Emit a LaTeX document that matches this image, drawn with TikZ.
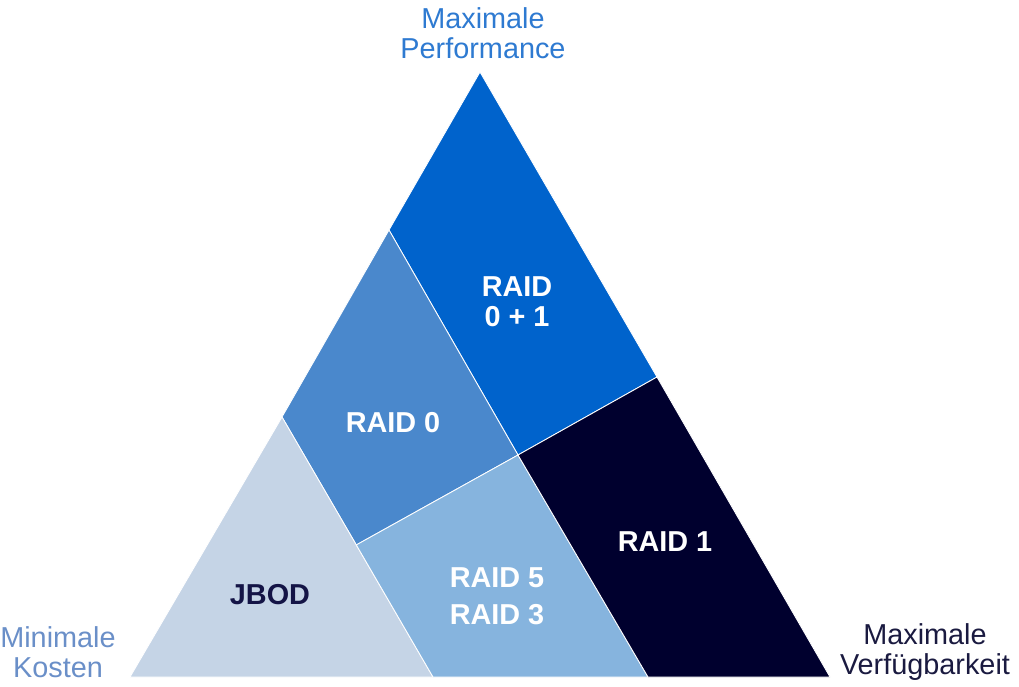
\documentclass[tikz,border=0pt]{standalone}
\usepackage{fontspec}
\setmainfont{Liberation Sans}
\usepackage{xcolor}
\usetikzlibrary{positioning, calc}

\definecolor{perfblue}{RGB}{0,99,204}
\definecolor{raidzero}{RGB}{74,136,204}
\definecolor{raidfive}{RGB}{134,180,222}
\definecolor{jbodgrey}{RGB}{197,212,230}
\definecolor{raidone}{RGB}{0,0,46}
\definecolor{toplabel}{RGB}{46,122,209}
\definecolor{leftlabel}{RGB}{106,143,200}
\definecolor{rightlabel}{RGB}{26,26,64}
\definecolor{jbodtext}{RGB}{20,20,70}

\tikzset{
  region/.style={draw=white, line width=0.6pt, line join=round},
  corner/.style={font=\fontsize{20.5}{21.5}\selectfont, align=center},
  raidlabel/.style={font=\bfseries\fontsize{20.5}{21.5}\selectfont, align=center, text=white}
}

\begin{document}
\begin{tikzpicture}[x=0.025cm, y=-0.025cm]
  \useasboundingbox (0,0) rectangle (1019,686);
  % corners of the triangle
  \coordinate (A) at (480,72);
  \coordinate (L) at (130,677);
  \coordinate (R) at (830,677);
  % points on the edges and inside
  \coordinate (P1) at (389,230);
  \coordinate (P2) at (282,417);
  \coordinate (T) at (657,377);
  \coordinate (Q) at (433,677);
  \coordinate (S) at (648,677);
  \coordinate (M) at (518,455);
  \coordinate (N) at ($(P2)!0.492!(Q)$);
  % regions
  \filldraw[region, fill=perfblue] (A) -- (P1) -- (M) -- (T) -- cycle;
  \filldraw[region, fill=raidzero] (P1) -- (P2) -- (N) -- (M) -- cycle;
  \filldraw[region, fill=jbodgrey] (P2) -- (L) -- (Q) -- cycle;
  \filldraw[region, fill=raidfive] (N) -- (Q) -- (S) -- (M) -- cycle;
  \filldraw[region, fill=raidone] (M) -- (S) -- (R) -- (T) -- cycle;
  % labels of the regions
  \node[raidlabel] (raid01) at (517,302) {RAID\\0 + 1};
  \node[raidlabel] (raid0) at (393,423) {RAID 0};
  \node[raidlabel] (raid1) at (665,542) {RAID 1};
  \node[raidlabel, font=\bfseries\fontsize{20.5}{26.3}\selectfont] (raid53) at (497,596) {RAID 5\\RAID 3};
  \node[raidlabel, text=jbodtext] (jbod) at (270,595) {JBOD};
  % labels of the corners
  \node[corner, text=toplabel] (perf) at (483,33) {Maximale\\Performance};
  \node[corner, text=leftlabel] (cost) at (58,652) {Minimale\\Kosten};
  \node[corner, text=rightlabel] (avail) at (925,652) {Maximale\\Verfügbarkeit};
\end{tikzpicture}
\end{document}
